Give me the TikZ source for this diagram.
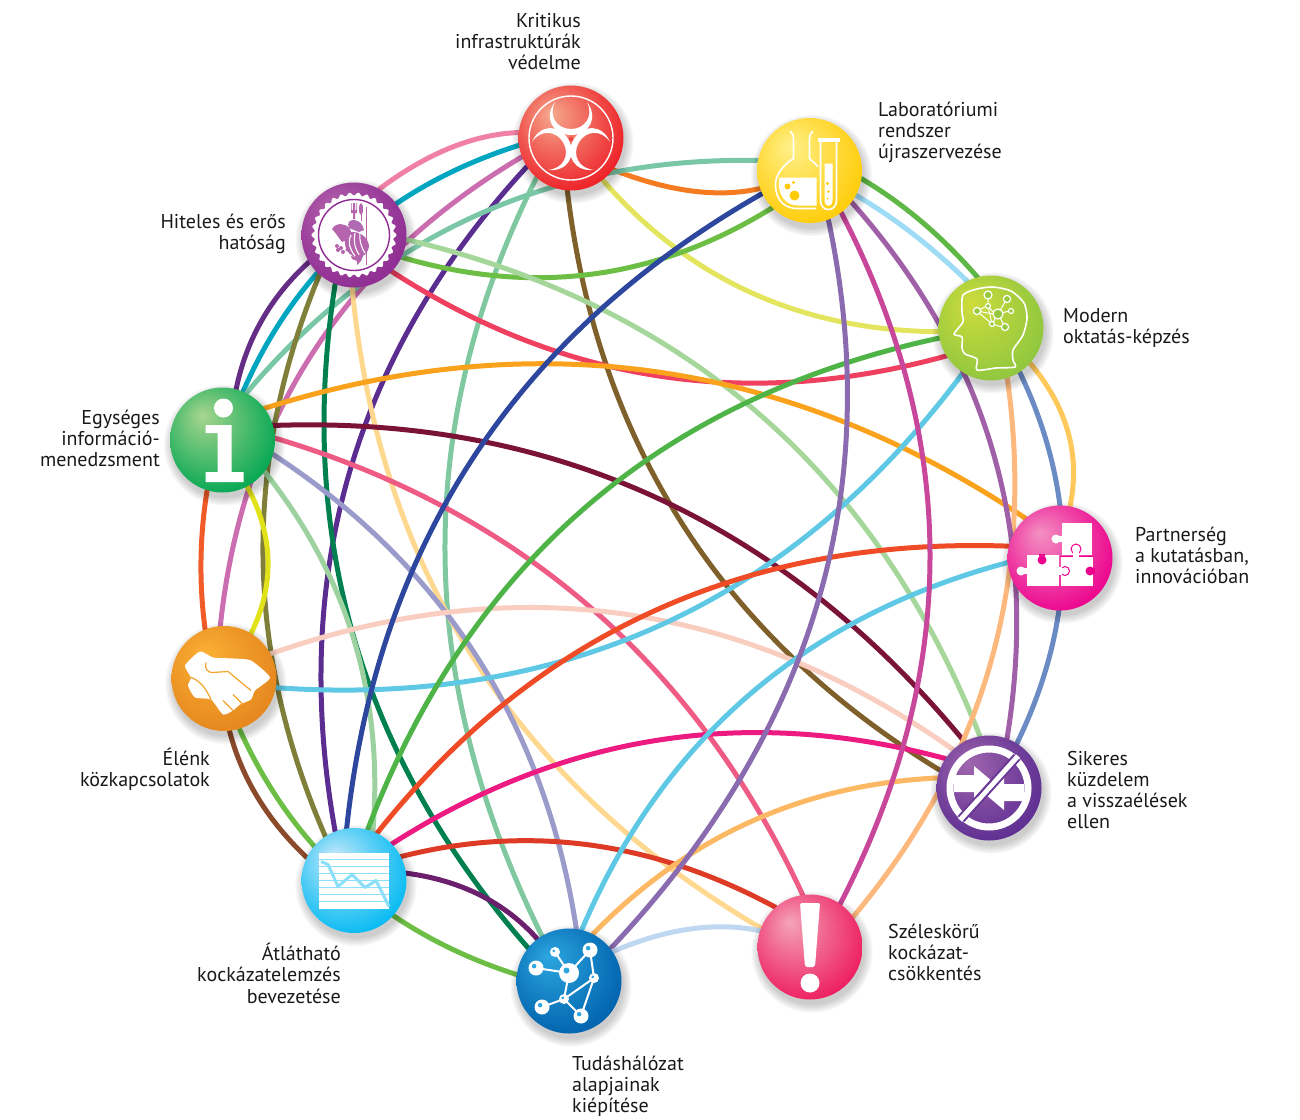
\documentclass[tikz,border=0pt]{standalone}
\usepackage{fontspec}
\setmainfont{PT Sans}
\usetikzlibrary{calc}
\pgfdeclarelayer{lines}
\pgfdeclarelayer{shadows}
\pgfsetlayers{lines,shadows,main}
\newcommand\mkshade[3]{\definecolor{c#1a}{HTML}{#2}\definecolor{c#1b}{HTML}{#3}%
 \pgfdeclareradialshading{sh#1}{\pgfpoint{-10bp}{12bp}}{color(0bp)=(c#1a);color(32bp)=(c#1b);color(50bp)=(c#1b)}}
\mkshade{A}{F5A98E}{ED1C24}
\mkshade{B}{FFF08A}{FFCB05}
\mkshade{C}{CFDC3C}{8DC63F}
\mkshade{D}{F390C2}{EC008C}
\mkshade{E}{A066AE}{5C2D91}
\mkshade{F}{F4A3B8}{ED1A5E}
\mkshade{G}{2CA6E0}{0061AC}
\mkshade{H}{C4E8FA}{00B9F2}
\mkshade{I}{FBB034}{E4861E}
\mkshade{J}{A8D58F}{00A651}
\mkshade{K}{B565AD}{8E2B92}
\newcommand\ballnode[3]{%
 \begin{pgfonlayer}{shadows}
  \foreach \rr in {53,54.5,56,57.5,59,60.5}{\fill[black,opacity=.035] (#2+2,#3+5) circle (\rr);}
 \end{pgfonlayer}
 \node[ball,shade,shading=sh#1,shading angle=0] (#1) at (#2,#3) {};}
\newcommand\lnk[7]{%
 \begin{pgfonlayer}{lines}
  \definecolor{tmpc}{HTML}{#1}%
  \coordinate (p0) at (#2.#3);
  \coordinate (p3) at (#4.#5);
  \coordinate (pm) at (#6,#7);
  \draw[conn,color=tmpc] (#2.#3) .. controls ($1.33333*(pm)-0.33333*(p3)$) and ($1.33333*(pm)-0.33333*(p0)$) .. (#4.#5);
 \end{pgfonlayer}}
\tikzset{
 ball/.style={circle,minimum size=105pt,inner sep=0pt,draw=none},
 conn/.style={line width=5pt,line cap=round},
 lblr/.style={anchor=north east,align=right,inner sep=0pt,font=\fontsize{20}{21.2}\selectfont,text=black!90},
 lbll/.style={anchor=north west,align=left,inner sep=0pt,font=\fontsize{20}{21.2}\selectfont,text=black!90},
 wl/.style={draw=white,line width=1.6pt},
}
\begin{document}
\begin{tikzpicture}[x=1pt,y=-1pt]
\useasboundingbox (0,0) rectangle (1300,1119);
\ballnode{A}{571}{138}
\ballnode{B}{809.5}{170.5}
\ballnode{C}{991}{328}
\ballnode{D}{1060}{558}
\ballnode{E}{989}{788}
\ballnode{F}{810}{947}
\ballnode{G}{569}{981}
\ballnode{H}{354}{880.5}
\ballnode{I}{224}{678.5}
\ballnode{J}{222.5}{440}
\ballnode{K}{354}{235}
% connectors
\lnk{F080A8}{K}{61}{A}{174}{450}{148}
\lnk{00A5C0}{A}{188}{J}{67}{352}{238}
\lnk{CC6DB0}{A}{201}{I}{94}{312}{354}
\lnk{5B2D90}{A}{213}{H}{111}{349}{474}
\lnk{80C8A0}{A}{229}{G}{121}{445}{553}
\lnk{7F5F2A}{A}{266}{E}{160}{683}{525}
\lnk{E3E55E}{A}{307}{C}{184}{752}{293}
\lnk{F47B20}{A}{323}{B}{200}{692}{191}
\lnk{6CBE45}{K}{335}{B}{225}{593}{274}
\lnk{7AC7A8}{B}{169}{J}{63}{475}{216}
\lnk{EF4060}{K}{316}{C}{212}{659}{376}
\lnk{A5D69A}{K}{355}{E}{100}{758}{413}
\lnk{7F7F3A}{K}{229}{H}{123}{263}{556}
\lnk{00804F}{K}{249}{G}{141}{354}{638}
\lnk{FFD88F}{K}{268}{F}{159}{474}{659}
\lnk{662D86}{K}{211}{J}{75}{262}{320}
\lnk{FAA21B}{J}{37}{D}{131}{658}{372}
\lnk{7B1339}{J}{16}{E}{118}{655}{497}
\lnk{EE5C85}{J}{2}{F}{98}{590}{607}
\lnk{9B9BCB}{J}{344}{G}{82}{477}{657}
\lnk{9DD2A0}{J}{323}{H}{69}{354}{640}
\lnk{E2E21B}{J}{298}{I}{59}{268}{560}
\lnk{F15A29}{J}{253}{I}{111}{201}{560}
\lnk{F9CDBF}{I}{28}{E}{133}{624}{614}
\lnk{5EC8E5}{I}{350}{C}{238}{663}{624}
\lnk{8B4A2A}{I}{276}{H}{154}{258}{798}
\lnk{6CBE45}{I}{287}{G}{173}{350}{882}
\lnk{2E479E}{H}{98}{B}{206}{473}{458}
\lnk{4FB447}{H}{75}{C}{191}{587}{506}
\lnk{EE4B26}{H}{64}{D}{167}{654}{611}
\lnk{ED1A82}{H}{44}{E}{146}{659}{740}
\lnk{DD3B26}{H}{27}{F}{131}{590}{845}
\lnk{6B1F6D}{H}{8}{G}{127}{480}{895}
\lnk{5EC8E5}{G}{76}{D}{185}{749}{695}
\lnk{FDB863}{G}{63}{E}{169}{750}{822}
\lnk{8A6BB0}{G}{38}{B}{291}{817}{605}
\lnk{BFD7F0}{G}{34}{F}{162}{690}{929}
\lnk{C8479B}{F}{55}{B}{307}{930}{557}
\lnk{FDB97D}{F}{35}{C}{288}{990}{665}
\lnk{A060A8}{B}{323}{E}{70}{993}{452}
\lnk{6B8BC5}{C}{303}{E}{58}{1063}{557}
\lnk{FFC85B}{C}{318}{D}{79}{1068}{432}
\lnk{5FB846}{B}{351}{C}{105}{922}{222}
\lnk{9EDBF5}{B}{332}{C}{117}{913}{234}
% --- icons ---
% A biohazard
\begin{scope}[shift={(A)}]
 \draw[white,line width=1.4pt] (0,0) circle (42);
 \foreach \a in {0,120,240}{
  \fill[white,rotate=\a] (-16,-36) .. controls (-28,-20) and (-18,-3) .. (0,-3) .. controls (18,-3) and (28,-20) .. (16,-36) .. controls (23,-22) and (14,-9) .. (0,-9) .. controls (-14,-9) and (-23,-22) .. (-16,-36) -- cycle;
 }
 \fill[cAb!70!cAa] (0,1) circle (2.2);
\end{scope}
% B flask and tube
\begin{scope}[shift={(B)}]
 \draw[wl,line cap=round,line join=round] (-19,-39) .. controls (-17,-37) and (-16,-35) .. (-16,-32) -- (-16,-12) .. controls (-26,-6) and (-35,5) .. (-34,16) .. controls (-33,30) and (-25,38) .. (-12,38) -- (6,38);
 \draw[wl,line cap=round,line join=round] (3,-39) .. controls (1,-37) and (0,-35) .. (0,-32) -- (0,-12) .. controls (3,-9) and (7,-6) .. (8,-4);
 \fill[white] (-30,7) -- (7,7) -- (7,35) -- (-12,35) .. controls (-24,35) and (-33,24) .. (-30,7) -- cycle;
 \fill[cBb] (-15,25) circle (5) (-22,16) circle (3) (-16,12) circle (1.6);
 \draw[wl,line join=round] (11,-31) -- (11,30) .. controls (11,42) and (27,42) .. (27,30) -- (27,-31);
 \fill[white] (8,-33) rectangle (30,-29);
 \fill[white] (15,-7) -- (23,-7) -- (23,30) .. controls (23,37) and (15,37) .. (15,30) -- cycle;
 \fill[cBb] (18,13) circle (1.6) (19,21) circle (1.3) (18,28) circle (1);
\end{scope}
% C head
\begin{scope}[shift={(C)}]
 \draw[white,line width=1.6pt,line join=round] plot[smooth cycle,tension=.45] coordinates {(2,-41) (20,-37) (33,-25) (36,-10) (32,7) (22,22) (22,32) (24,39) (5,40) (-14,42) (-14,31) (-26,26) (-29,20) (-29,9) (-37,6) (-28,-6) (-29,-16) (-28,-33) (-14,-39)};
 \draw[white,line width=1pt] (-3,-22) -- (-3,-29) (-14,-17) -- (-6,-21) (-3,-22) -- (2,-16) (-14,-17) -- (1,-4) (-3,-22) -- (1,-4) (7,-14) -- (1,-4) (7,-14) -- (14,-1) (1,-4) -- (11,-1) (7,-14) -- (14,-26) (7,-14) -- (18,-17) (-14,-17) -- (2,-14);
 \foreach \p/\q/\r in {-3/-33/4,16/-29/3.6,-14/-17/3.6,-3/-22/2.4,7/-14/5,20/-17/2.5,1/-4/2.5,14/-1/3.6}{
  \filldraw[draw=white,fill=cCb!85!cCa,line width=1.2pt] (\p,\q) circle (\r);}
\end{scope}
% D puzzle
\begin{scope}[shift={(D)}]
 \fill[white] (1.5,-35) rectangle (32,-3);
 \fill[white] (-4,-19) circle (4.5);
 \fill[white] (-1,-22) rectangle (2,-16);
 \fill[white] (-33,-3) rectangle (-1,28);
 \fill[white] (-39,13) circle (4.5);
 \fill[white] (-36,10) rectangle (-32,16);
 \fill[white] (1,-2) rectangle (33,28);
 \fill[cDb] (-18,2) circle (4.5) (-21,-4) rectangle (-15,-2);
 \fill[cDb] (30,13) circle (4.5);
 \fill[cDb] (33,10) rectangle (35,16);
 \draw[cDb,line width=1pt,fill=white] (16,-9) circle (5);
 \draw[cDb,line width=1pt,fill=white] (5,13) circle (4.5);
 \fill[white] (13,-6) rectangle (19,-1);
 \fill[white] (-2,9) rectangle (2,17);
 \draw[cDb,line width=1pt] (0,-2) -- (33,-2);
 \fill[white] (13,-5) rectangle (19,0);
\end{scope}
% E no-fraud
\begin{scope}[shift={(E)}]
 \draw[white,line width=7pt] (0,0) circle (39);
 \fill[white] (-35,-13) -- (-15,-13) -- (-15,-22) -- (4,-6) -- (-15,12) -- (-15,4) -- (-35,4) -- cycle;
 \fill[white] (35,13) -- (15,13) -- (15,22) -- (-4,6) -- (15,-12) -- (15,-4) -- (35,-4) -- cycle;
 \draw[cEb!80!cEa,line width=9pt] (28,-31) -- (-28,31);
 \draw[white,line width=5pt] (29,-32) -- (-29,32);
 \draw[cEb!80!cEa,line width=1pt] (20,-27) -- (-12,9);
\end{scope}
% F exclamation
\begin{scope}[shift={(F)}]
 \fill[white,rounded corners=2pt] (-10,-44) -- (10,-44) -- (5,20) -- (-5,20) -- cycle;
 \fill[white] (0,36) circle (9.5);
\end{scope}
% G network
\begin{scope}[shift={(G)}]
 \draw[white,line width=2pt] (-33,-13) -- (0,-8) (-14,-29) -- (0,-8) (21,-31) -- (0,-8) (21,-31) -- (25,-3) (0,-8) -- (-5,18) (25,-3) -- (-5,18) (25,-3) -- (12,35) (-5,18) -- (12,35) (-5,18) -- (-27,26);
 \foreach \p/\q/\r in {-33/-13/7.5,-14/-29/5,21/-31/7.5,0/-8/10,25/-3/5,-5/18/5,-27/26/7.5,12/35/7.5}{
  \fill[white] (\p,\q) circle (\r);
  \fill[cGa] (\p-.25*\r,\q-.25*\r) circle (.3*\r);}
\end{scope}
% H chart
\begin{scope}[shift={(H)}]
 \fill[white] (-35,-28) rectangle (35,28);
 \foreach \yy in {-22,-15,-8,-1,6,13,20}{\fill[cHb!45!white] (-35,\yy) rectangle (35,\yy+1.2);}
 \draw[cHb!45!white,line width=3pt,line join=round] (-33,-19) -- (-26,-16) -- (-16,6) -- (-2,-6) -- (11,7) -- (22,0) -- (35,26);
\end{scope}
% I handshake
\begin{scope}[shift={(I)}]
 \fill[white,line join=round] plot[smooth cycle,tension=.35] coordinates {(-39,-13) (-24,-27) (-11,-21) (10,-20) (27,-18) (46,-1) (31,12) (27,21) (16,26) (9,32) (-1,36) (-13,21) (-29,19) (-36,7) (-33,-1)};
 \draw[cIa!70!cIb,line width=1.2pt,line join=round] (-18,-16) .. controls (-20,-10) and (-16,-6) .. (-12,-6) -- (4,-7) -- (27,12);
 \draw[cIa!70!cIb,line width=1.2pt] (-1,22) -- (9,32) (9,16) -- (19,26) (-33,-1) .. controls (-24,2) and (-18,10) .. (-13,21);
\end{scope}
% J info
\begin{scope}[shift={(J)}]
 \fill[white] (1,-32) circle (9.5);
 \fill[white] (-17,-15) -- (9,-15) -- (9,32) -- (21,32) -- (21,42) -- (-17,42) -- (-17,32) -- (-5,32) -- (-5,-7) -- (-17,-7) -- cycle;
\end{scope}
% K seal
\begin{scope}[shift={(K)}]
 \fill[white] plot[samples=180,domain=0:360] (\x:{41+1.6*cos(30*\x)}) -- cycle;
 \draw[cKb,line width=1.4pt] (0,0) circle (35.5);
 \draw[cKa,line width=.9pt] (12,-28) -- (12,30);
 \fill[cKb!70!white] (-5,-7) .. controls (-10,-18) and (8,-18) .. (10,-5) -- (5,-3) -- cycle;
 \fill[cKa] (-22,-6) .. controls (-18,-13) and (-8,-12) .. (-4,-6) .. controls (0,-2) and (-6,6) .. (-12,7) .. controls (-16,2) and (-18,-2) .. (-22,-6) -- cycle;
 \fill[cKa] (-7,-2) .. controls (0,-5) and (12,-2) .. (15,10) .. controls (15,18) and (8,24) .. (2,22) .. controls (-8,20) and (-12,8) .. (-7,-2) -- cycle;
 \draw[white,line width=1.1pt] (-3,0) .. controls (-7,8) and (-3,16) .. (1,21) (1,-2) .. controls (-1,8) and (2,16) .. (6,21) (6,-2) .. controls (5,6) and (8,14) .. (11,18);
 \fill[cKa] (-1,-32) rectangle (1,-16) (-3,-32) rectangle (-2.4,-24) (2.4,-32) rectangle (3,-24) (-3,-25) rectangle (3,-22);
 \fill[cKa] (7,-26) ellipse (2 and 6);
 \draw[cKa,line width=.8pt] (7,-30) -- (7,-14);
 \fill[cKa] (3,26) -- (-2,24) -- (-3,21) -- (3,22) -- (6,19) -- (9,21) -- (7,26) -- (3,30) -- cycle;
 \fill[cKa] (-17,11) circle (2) (-13,13) circle (2) (-16,15) circle (2) (-11,17) circle (2) (-7,15) circle (1.6);
\end{scope}
% --- labels ---
\node[lblr] (la) at (581,12) {\strut Kritikus\\infrastruktúrák\\védelme};
\node[lbll] (lb) at (878,101) {\strut Laboratóriumi\\rendszer\\újraszervezése};
\node[lbll] (lc) at (1063,307) {\strut Modern\\oktatás-képzés};
\node[lbll] (ld) at (1135,526) {\strut Partnerség\\a kutatásban,\\innovációban};
\node[lbll] (le) at (1067,750) {\strut Sikeres\\küzdelem\\a visszaélések\\ellen};
\node[lbll] (lf) at (888,923) {\strut Széleskörű\\kockázat-\\csökkentés};
\node[lbll] (lg) at (572,1055) {\strut Tudáshálózat\\alapjainak\\kiépítése};
\node[lblr] (lh) at (341,943) {\strut Átlátható\\kockázatelemzés\\bevezetése};
\node[lblr] (li) at (210,748) {\strut Élénk\\közkapcsolatok};
\node[lblr] (lj) at (160,409) {\strut Egységes\\információ-\\menedzsment};
\node[lblr] (lk) at (286,213) {\strut Hiteles és erős\\hatóság};
\end{tikzpicture}
\end{document}
